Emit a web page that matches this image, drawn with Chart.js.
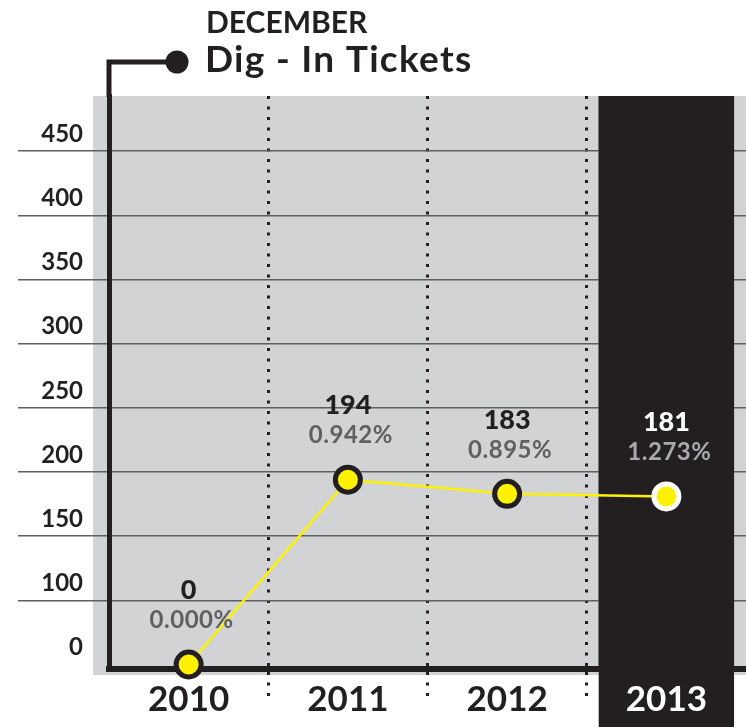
<!DOCTYPE html>
<html>
<head>
<meta charset="utf-8">
<script src="https://cdn.jsdelivr.net/npm/chart.js@4.4.1/dist/chart.umd.min.js"></script>
<style>
  html, body { margin: 0; padding: 0; background: #ffffff; }
  #wrap { width: 746px; height: 727px; }
</style>
</head>
<body>
<div id="wrap"><canvas id="c" width="746" height="727"></canvas></div>
<script>
// ---- data ----
const years = ['2010', '2011', '2012', '2013'];
const tickets = [0, 194, 183, 181];
const shares = ['0.000%', '0.942%', '0.895%', '1.273%'];
const yTicks = [0, 100, 150, 200, 250, 300, 350, 400, 450];
const titleTop = 'DECEMBER';
const titleMain = 'Dig - In Tickets';
const highlightYear = '2013';

// ---- styling ----
const INK = '#231f20';
const YELLOW = '#fff200';
const PANEL = '#d1d3d4';
const GRID = '#5d5e60';
const FONT = 'Lato, "DejaVu Sans", sans-serif';
const highlightIdx = years.indexOf(highlightYear);

// Value axis whose 0-100 stretch is squeezed to the height of one 50-step.
const BREAK = 100;
const toAxis = v => (v >= BREAK ? v : BREAK / 2 + v / 2);
const fromAxis = d => (d >= BREAK ? d : (d - BREAK / 2) * 2);
const LinearScale = Chart.registry.getScale('linear');
class BrokenLinearScale extends LinearScale {
  getPixelForValue(v) {
    return v == null ? NaN : super.getPixelForValue(toAxis(v));
  }
  getValueForPixel(p) {
    return fromAxis(super.getValueForPixel(p));
  }
}
BrokenLinearScale.id = 'brokenLinear';
BrokenLinearScale.defaults = {};
Chart.register(BrokenLinearScale);

// width and left edge of the highlighted year's column
function columnRect(x) {
  const step = (x.right - x.left) / years.length;
  const w = step * 0.85;
  const cx = x.getPixelForValue(highlightIdx);
  return [cx - w / 2, w];
}

const decor = {
  id: 'decor',
  beforeDraw(chart) {
    const { ctx, chartArea: a, scales: { x } } = chart;
    ctx.save();
    ctx.fillStyle = PANEL;
    ctx.fillRect(a.left - 16, a.top, chart.width - (a.left - 16), a.bottom + 6 - a.top);
    const [l, w] = columnRect(x);
    ctx.fillStyle = INK;
    ctx.fillRect(l, a.top, w, chart.height - a.top);
    ctx.restore();
  },
  beforeDatasetsDraw(chart) {
    // keep the grid off the highlighted column
    const { ctx, chartArea: a, scales: { x } } = chart;
    const [l, w] = columnRect(x);
    ctx.save();
    ctx.fillStyle = INK;
    ctx.fillRect(l, a.top, w, a.bottom - a.top);
    ctx.restore();
  },
  afterDatasetsDraw(chart) {
    const { ctx } = chart;
    const meta = chart.getDatasetMeta(0);
    ctx.save();
    ctx.textAlign = 'center';
    ctx.textBaseline = 'middle';
    meta.data.forEach((pt, i) => {
      const hi = i === highlightIdx;
      ctx.font = `900 27px ${FONT}`;
      ctx.fillStyle = hi ? '#ffffff' : INK;
      ctx.fillText(String(tickets[i]), pt.x, pt.y - 74);
      ctx.font = `bold 24px ${FONT}`;
      ctx.letterSpacing = '0.5px';
      ctx.fillStyle = hi ? '#a7a9ac' : '#5f6062';
      ctx.fillText(shares[i], pt.x + 3, pt.y - 44);
      ctx.letterSpacing = '0px';
    });
    ctx.restore();
  },
  afterDraw(chart) {
    const { ctx, chartArea: a } = chart;
    const ay = 62;
    const dotX = 177;
    ctx.save();
    ctx.strokeStyle = INK;
    ctx.fillStyle = INK;
    ctx.lineWidth = 5;
    // axis line running up into the heading connector
    ctx.beginPath();
    ctx.moveTo(a.left, a.top + 1);
    ctx.lineTo(a.left, ay);
    ctx.lineTo(dotX, ay);
    ctx.stroke();
    ctx.fillRect(a.left - 2.5, a.bottom - 3, 5, 6);
    ctx.beginPath();
    ctx.arc(dotX, ay, 11.5, 0, Math.PI * 2);
    ctx.fill();
    // heading
    ctx.textAlign = 'left';
    ctx.textBaseline = 'alphabetic';
    ctx.font = `bold 30px ${FONT}`;
    ctx.fillText(titleTop, 206, 33);
    ctx.font = `bold 37px ${FONT}`;
    ctx.letterSpacing = '1.3px';
    ctx.fillText(titleMain, 205, 72);
    ctx.restore();
  }
};

// grid lines at the outer edges of the category axis stay hidden
const edgeLine = c => (c.type !== 'tick' || c.index === 0 || c.index >= years.length);

new Chart(document.getElementById('c'), {
  type: 'line',
  data: {
    labels: years,
    datasets: [{
      data: tickets,
      borderColor: YELLOW,
      borderWidth: 2.5,
      tension: 0,
      clip: false,
      pointRadius: 12.5,
      pointHoverRadius: 12.5,
      pointBackgroundColor: YELLOW,
      pointBorderColor: years.map((y, i) => (i === highlightIdx ? '#ffffff' : INK)),
      pointBorderWidth: 5,
      pointHoverBorderWidth: 5
    }]
  },
  options: {
    responsive: false,
    animation: false,
    devicePixelRatio: 1,
    events: [],
    layout: { autoPadding: false, padding: { top: 96, left: 0, right: 0, bottom: 0 } },
    plugins: { legend: { display: false }, tooltip: { enabled: false }, title: { display: false } },
    scales: {
      x: {
        type: 'category',
        offset: true,
        afterFit: s => { s.height = 58; s.paddingLeft = 0; s.paddingRight = 0; },
        grid: {
          offset: true,
          color: c => (edgeLine(c) ? 'rgba(0,0,0,0)' : INK),
          lineWidth: 3,
          drawTicks: true,
          tickLength: 32,
          tickWidth: 3,
          tickColor: c => (edgeLine(c) ? 'rgba(0,0,0,0)' : INK),
          tickBorderDash: [3, 7.5]
        },
        border: { display: true, color: INK, width: 6, dash: [3, 7.5] },
        ticks: {
          autoSkip: false,
          maxRotation: 0,
          padding: -22,
          color: c => (c.index === highlightIdx ? '#ffffff' : INK),
          font: { family: FONT, size: 35, weight: 'bold' }
        }
      },
      y: {
        type: 'brokenLinear',
        position: 'left',
        min: 46.5,
        max: 493,
        bounds: 'data',
        afterBuildTicks: s => { s.ticks = yTicks.map(v => ({ value: v })); },
        afterFit: s => { s.width = 109; s.paddingTop = 0; s.paddingBottom = 0; },
        grid: {
          color: c => (c.tick && c.tick.value === 0 ? 'rgba(0,0,0,0)' : GRID),
          lineWidth: 1.5,
          drawTicks: true,
          tickLength: 91,
          tickWidth: 1.5,
          tickColor: c => (c.tick && c.tick.value === 0 ? 'rgba(0,0,0,0)' : GRID)
        },
        border: { display: true, color: INK, width: 5 },
        ticks: {
          autoSkip: false,
          crossAlign: 'near',
          padding: -65,
          labelOffset: -17,
          color: INK,
          font: { family: FONT, size: 24, weight: 'bold' },
          callback: v => String(v)
        }
      }
    }
  },
  plugins: [decor]
});
</script>
</body>
</html>
